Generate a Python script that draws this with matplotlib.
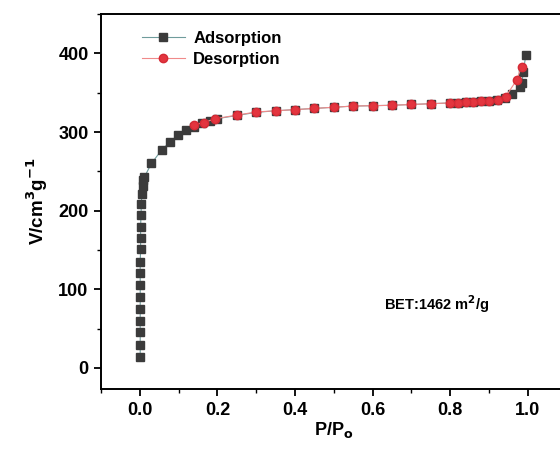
import matplotlib
matplotlib.use("Agg")
import matplotlib.pyplot as plt
from matplotlib.ticker import MultipleLocator

plt.rcParams["font.family"] = ["Liberation Sans", "DejaVu Sans"]
plt.rcParams["font.weight"] = "bold"

# N2 isotherm, adsorption branch
ads_p = [0.001, 0.001, 0.001, 0.001, 0.001, 0.001, 0.001, 0.001, 0.001, 0.002,
         0.002, 0.002, 0.003, 0.004, 0.005, 0.007, 0.009, 0.012,
         0.03, 0.056, 0.077, 0.098, 0.12, 0.14, 0.16, 0.18,
         0.20, 0.25, 0.30, 0.35, 0.40, 0.45, 0.50, 0.55, 0.60, 0.65,
         0.70, 0.75, 0.80, 0.82, 0.84, 0.86, 0.88, 0.90, 0.92, 0.94,
         0.96, 0.979, 0.985, 0.988, 0.995]
ads_v = [14, 29, 45, 60, 75, 90, 105, 120, 135, 151,
         165, 179, 194, 208, 221, 231, 239, 243,
         260, 277, 287, 296, 302, 307, 311, 314,
         317, 321, 325, 327, 328.5, 330, 331.5, 333, 333.5, 334,
         335, 336, 337, 337.5, 338, 338.5, 339, 340, 341, 343,
         348, 357, 362, 376, 398]

# desorption branch
des_p = [0.984, 0.971, 0.943, 0.924, 0.90, 0.88, 0.86, 0.84, 0.82, 0.80,
         0.75, 0.70, 0.65, 0.60, 0.55, 0.50, 0.45, 0.40, 0.35, 0.30,
         0.25, 0.195, 0.165, 0.14]
des_v = [383, 366, 345, 341, 340, 339, 338.5, 338, 337.5, 337,
         336, 335, 334, 333.5, 333, 331.5, 330, 328.5, 327, 325.5,
         321.5, 317, 312, 309]

bet_text = "BET:1462 m$^{\\mathbf{2}}$/g"

fig = plt.figure(figsize=(5.6, 4.55), dpi=100)
ax = fig.add_axes([0.1804, 0.145, 0.8314, 0.824])

ax.plot(ads_p, ads_v, "-s", color="#6f9c9c", lw=0.8, ms=5.5,
        mfc="#3b3b3b", mec="#3b3b3b", label="Adsorption", zorder=2)
ax.plot(des_p, des_v, "-o", color="#f08a8a", lw=0.8, ms=6,
        mfc="#e3353f", mec="#d42a35", label="Desorption", zorder=3)

ax.set_xlim(-0.1, 1.1)
ax.set_ylim(-27, 450)
ax.xaxis.set_major_locator(MultipleLocator(0.2))
ax.xaxis.set_minor_locator(MultipleLocator(0.1))
ax.yaxis.set_major_locator(MultipleLocator(100))
ax.yaxis.set_minor_locator(MultipleLocator(50))
ax.tick_params(which="major", direction="out", length=5, width=1.3,
               labelsize=13, pad=4)
ax.tick_params(which="minor", direction="out", length=3, width=1.0)
for label in ax.get_xticklabels() + ax.get_yticklabels():
    label.set_fontweight("bold")
for spine in ax.spines.values():
    spine.set_linewidth(1.4)

ax.set_xlabel("P/P$_\\mathbf{o}$", fontsize=13, fontweight="bold", labelpad=1)
ax.set_ylabel("V/cm$^\\mathbf{3}$g$^\\mathbf{-1}$", fontsize=13.5,
              fontweight="bold", labelpad=6)

ax.legend(loc="upper left", bbox_to_anchor=(0.055, 0.995), frameon=False,
          prop={"size": 12, "weight": "bold"}, handlelength=2.6,
          handletextpad=0.5, labelspacing=0.35)

ax.text(0.63, 74, bet_text, fontsize=10.5, fontweight="bold")

fig.savefig("out.png", dpi=100)
